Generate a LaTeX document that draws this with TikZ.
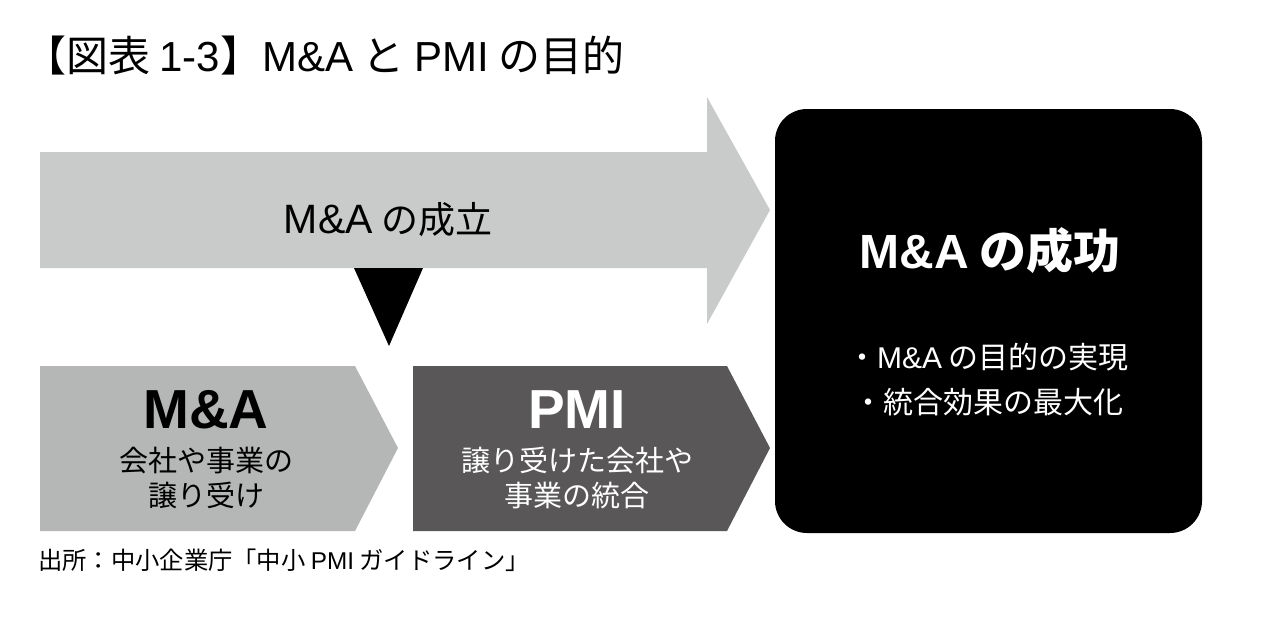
\documentclass[tikz,border=0pt]{standalone}
\usepackage{fontspec}
\setmainfont{Liberation Sans}
\newfontfamily\jp{Noto Sans CJK JP}
\newcommand{\la}[1]{{\rmfamily #1}}
\newcommand{\fs}[1]{\fontsize{#1}{#1}\selectfont}
\definecolor{lgray}{HTML}{C9CACA}
\definecolor{cgray}{HTML}{B5B6B6}
\definecolor{dgray}{HTML}{595757}
\tikzset{
  txt/.style={inner sep=0pt, font=\jp, align=center},
  sub/.style={txt, font=\jp\fontsize{29}{35}\selectfont},
  bul/.style={txt, font=\jp\fontsize{30}{45}\selectfont},
  head/.style={txt, font=\jp\bfseries\fontsize{55}{60}\selectfont},
}
\begin{document}
\begin{tikzpicture}[x=1pt,y=-1pt]
\useasboundingbox (0,0) rectangle (1261,616);
% title
\node[txt, anchor=base west, font=\jp\fontsize{42}{48}\selectfont] (title) at (24,71)
  {【図表 \la{1-3}】\la{M\&A} と \la{PMI} の目的};
% big arrow
\fill[lgray] (40,152) -- (707,152) -- (707,97) -- (770,210) -- (707,324) -- (707,268) -- (40,268) -- cycle;
\node[txt, anchor=base, font=\jp\fs{37}] (est) at (388,233) {\la{\fs{41}M\&A} の成立};
% triangle
\fill[black] (354,268) -- (423,268) -- (389,346) -- cycle;
% chevrons
\fill[cgray] (40,366) -- (355,366) -- (398,448) -- (355,531) -- (40,531) -- cycle;
\fill[dgray] (413,366) -- (727,366) -- (770,448) -- (727,531) -- (413,531) -- cycle;
\node[head, anchor=base] (ma) at (206,428) {\la{\bfseries M\&A}};
\node[sub] (mat) at (206,478) {会社や事業の\\譲り受け};
\node[head, anchor=base, text=white] (pmi) at (577,428) {\la{\bfseries PMI}};
\node[sub, text=white] (pmit) at (577,478) {譲り受けた会社や\\事業の統合};
% black box
\fill[black, rounded corners=32pt] (775,109) rectangle (1202,533);
\node[txt, anchor=base, text=white, font=\jp\bfseries\fs{47}] (succ) at (990,268) {\la{\bfseries\fs{48}M\&A} の成功};
\node[bul, text=white] (bl) at (988,380) {・\la{M\&A} の目的の実現\\・統合効果の最大化};
% source
\node[txt, anchor=west, font=\jp\fontsize{24.3}{28}\selectfont] (src) at (38,560)
  {出所：中小企業庁「中小 \la{PMI} ガイドライン」};
\end{tikzpicture}
\end{document}
